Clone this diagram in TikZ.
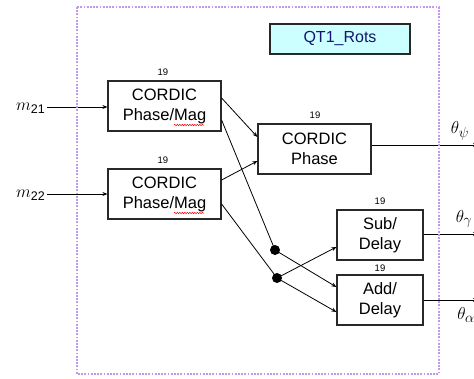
\documentclass[tikz,border=0pt]{standalone}
\usepackage{fontspec}
\setmainfont{Liberation Sans}
\usetikzlibrary{arrows.meta,decorations.pathmorphing}
\definecolor{frameviolet}{RGB}{196,150,240}
\definecolor{titlefill}{RGB}{204,255,255}
\definecolor{titletext}{RGB}{20,20,110}
\definecolor{boxline}{RGB}{40,40,40}
\tikzset{
  blk/.style={draw=boxline, line width=1.2pt, fill=white, minimum width=113pt, minimum height=50pt,
    align=center, inner sep=0pt, font=\fontsize{16.5}{20}\selectfont},
  sblk/.style={blk, minimum width=86pt},
  wid/.style={font=\fontsize{9.5}{9.5}\selectfont, inner sep=0pt},
  conn/.style={line width=0.8pt, -{Stealth[length=5pt,width=4pt]}},
  plain/.style={line width=0.8pt},
  jdot/.style={circle, fill=black, inner sep=0pt, minimum size=10pt},
  lbl/.style={inner sep=0pt, font=\fontsize{19}{19}\selectfont},
}
\begin{document}
\begin{tikzpicture}[x=1pt,y=-1pt]
\useasboundingbox (0,0) rectangle (474,378);
% blocks
\node[blk] (pm1) at (164.5,106) {CORDIC\\Phase/Mag};
\node[blk] (pm2) at (164.5,194) {CORDIC\\Phase/Mag};
\node[blk] (ph) at (314.5,149) {CORDIC\\Phase};
\node[sblk] (sub) at (380,235) {Sub/\\Delay};
\node[sblk] (add) at (380,300) {Add/\\Delay};
% widths
\node[wid] (w1) at (163,72) {19};
\node[wid] (w2) at (163,160) {19};
\node[wid] (w3) at (315,115) {19};
\node[wid] (w4) at (380,201) {19};
\node[wid] (w5) at (380,268) {19};
% title
\node[draw=boxline, line width=1.2pt, fill=titlefill, minimum width=140pt, minimum height=30pt,
  inner sep=0pt, text=titletext, font=\fontsize{16}{16}\selectfont] (title) at (340,39) {QT1\_Rots};
% spell-check squiggles
\draw[red, line width=0.5pt, decorate, decoration={snake, amplitude=0.7pt, segment length=2.5pt}]
  (174,125) -- (204,125);
\draw[red, line width=0.5pt, decorate, decoration={snake, amplitude=0.7pt, segment length=2.5pt}]
  (174,213) -- (204,213);
% inputs
\node[lbl, anchor=east] (m21) at (45,108) {\fontsize{18}{18}\selectfont$m$\raisebox{-3pt}{\fontsize{12.5}{12.5}\selectfont 21}};
\node[lbl, anchor=east] (m22) at (45,195) {\fontsize{18}{18}\selectfont$m$\raisebox{-3pt}{\fontsize{12.5}{12.5}\selectfont 22}};
\draw[conn] (m21.east) ++(2,-1) coordinate (m21e) -- (m21e -| pm1.west);
\draw[conn] (m22.east) ++(2,-1) coordinate (m22e) -- (m22e -| pm2.west);
% junction dots
\node[jdot] (d1) at (275,250) {};
\node[jdot] (d2) at (277,278) {};
% internal connectors
\draw[conn] ([yshift=8pt]pm1.east) -- ([yshift=12pt]ph.west);
\draw[conn] ([yshift=14pt]pm2.east) -- ([yshift=-12pt]ph.west);
\draw[plain] ([yshift=-14pt]pm1.east) -- (d1.center);
\draw[plain] ([yshift=-10pt]pm2.east) -- (d2.center);
\draw[conn] (d1.center) -- ([yshift=13pt]add.west);
\draw[conn] (d2.center) -- ([yshift=-12pt]sub.west);
\draw[conn] (d2.center) -- ([yshift=-12pt]add.west);
% outputs
\coordinate (o1) at (478,145);
\coordinate (o2) at (478,234);
\coordinate (o3) at (478,300);
\draw[conn] (ph.east |- o1) -- (o1);
\draw[conn] (sub.east |- o2) -- (o2);
\draw[conn] (add.east |- o3) -- (o3);
\node[lbl] (tpsi) at (460,131) {$\theta_\psi$};
\node[lbl] (tgam) at (464,219) {$\theta_\gamma$};
\node[lbl] (talp) at (466,315) {$\theta_\alpha$};
% dotted frame
\draw[frameviolet, line width=2pt, dash pattern=on 1.8pt off 1.4pt] (77,7) rectangle (439,374);
\end{tikzpicture}
\end{document}
